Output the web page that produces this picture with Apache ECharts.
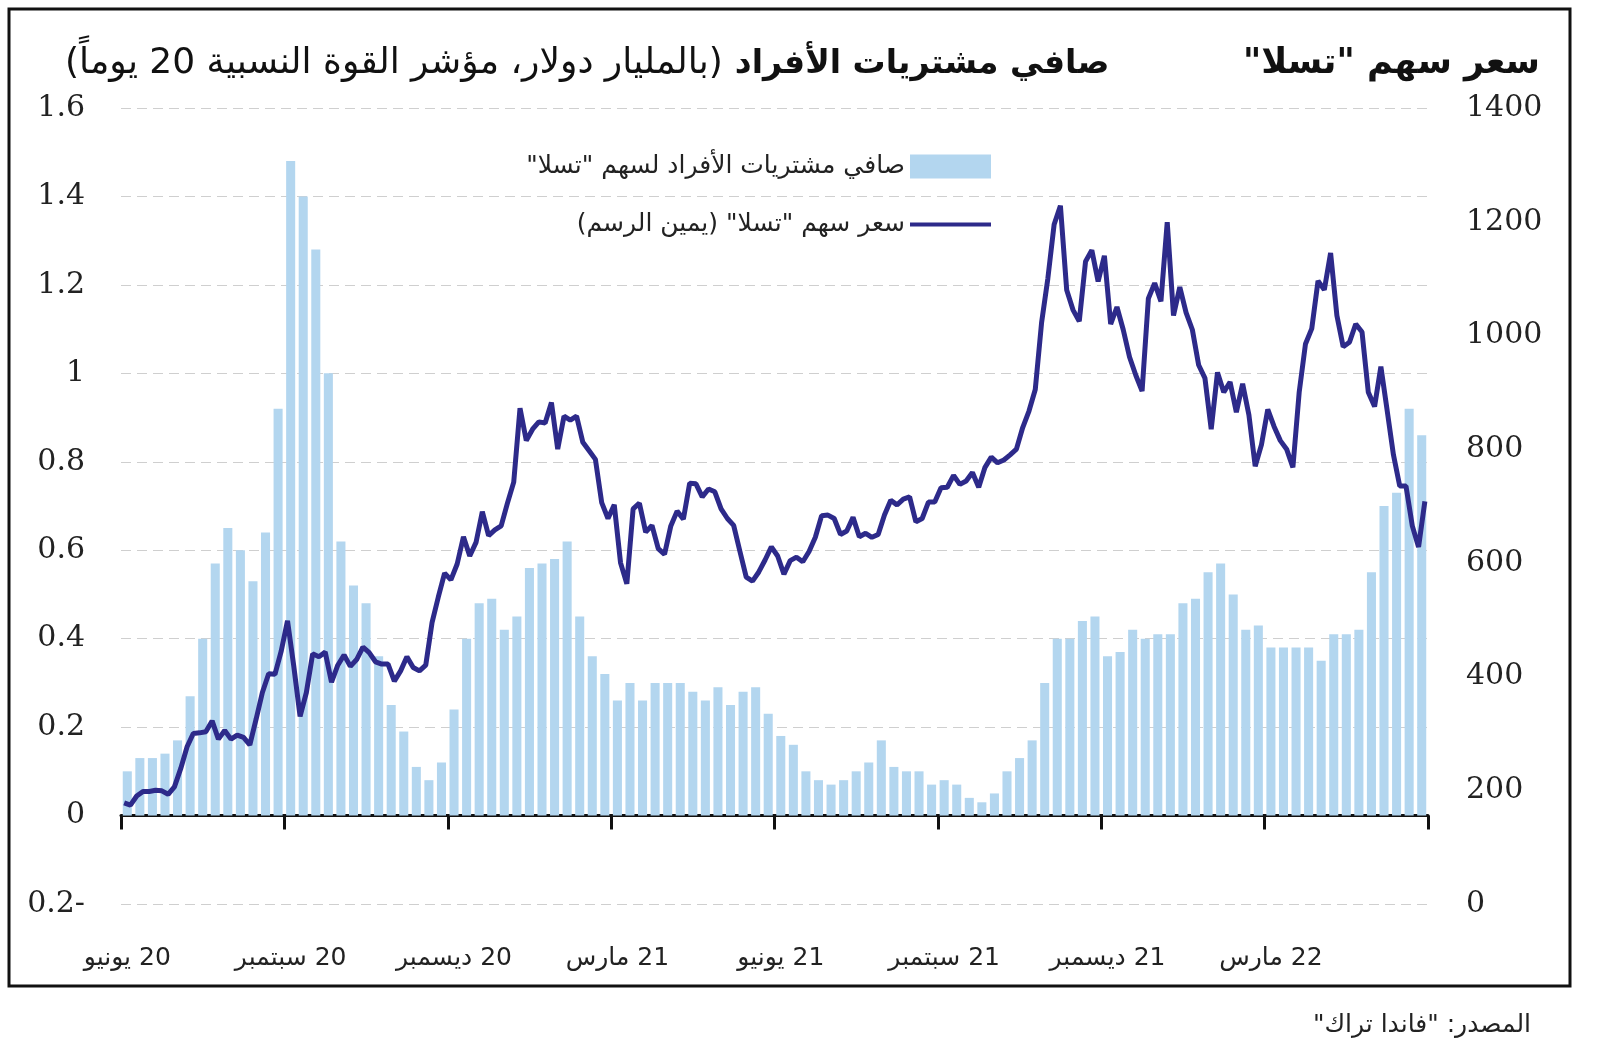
<!DOCTYPE html>
<html>
<head>
<meta charset="utf-8">
<script src="https://cdn.jsdelivr.net/npm/echarts@6/dist/echarts.min.js"></script>
<style>
  html, body { margin: 0; padding: 0; background: #fff; }
  #chart { width: 1600px; height: 1053px; direction: rtl; }
</style>
</head>
<body>
<div id="chart"></div>
<script>
// weekly categories, June 1 2020 .. May 27 2022
const weeks = [];
for (let i = 0; i < 104; i++) {
  weeks.push(new Date(Date.UTC(2020, 5, 1) + i * 7 * 864e5).toISOString().slice(0, 10));
}
// two price readings per week (early / late in the week)
const halfWeeks = [];
weeks.forEach(function (w) { halfWeeks.push(w + " a", w + " b"); });

const tickWeeks = [0, 13, 26, 39, 52, 65, 78, 91];
const tickLabels = ["20 يونيو", "20 سبتمبر", "20 ديسمبر", "21 مارس", "21 يونيو", "21 سبتمبر", "21 ديسمبر", "22 مارس"];

// net retail purchases, bn $ (left axis)
const netBuying = [
  0.10, 0.13, 0.13, 0.14, 0.17, 0.27, 0.40, 0.57, 0.65, 0.60,
  0.53, 0.64, 0.92, 1.48, 1.40, 1.28, 1.00, 0.62, 0.52, 0.48,
  0.36, 0.25, 0.19, 0.11, 0.08, 0.12, 0.24, 0.40, 0.48, 0.49,
  0.42, 0.45, 0.56, 0.57, 0.58, 0.62, 0.45, 0.36, 0.32, 0.26,
  0.30, 0.26, 0.30, 0.30, 0.30, 0.28, 0.26, 0.29, 0.25, 0.28,
  0.29, 0.23, 0.18, 0.16, 0.10, 0.08, 0.07, 0.08, 0.10, 0.12,
  0.17, 0.11, 0.10, 0.10, 0.07, 0.08, 0.07, 0.04, 0.03, 0.05,
  0.10, 0.13, 0.17, 0.30, 0.40, 0.40, 0.44, 0.45, 0.36, 0.37,
  0.42, 0.40, 0.41, 0.41, 0.48, 0.49, 0.55, 0.57, 0.50, 0.42,
  0.43, 0.38, 0.38, 0.38, 0.38, 0.35, 0.41, 0.41, 0.42, 0.55,
  0.70, 0.73, 0.92, 0.86
];

// Tesla share price (right axis)
const price = [
  178, 174, 190, 198, 198, 200, 199, 193, 206, 238,
  276, 300, 301, 303, 322, 290, 305, 290, 297, 293,
  280, 325, 372, 405, 404, 445, 498, 418, 330, 372,
  440, 435, 443, 390, 420, 438, 418, 430, 452, 442,
  426, 422, 422, 392, 410, 435, 416, 410, 420, 495,
  540, 582, 570, 598, 646, 612, 636, 690, 648, 658,
  665, 705, 742, 872, 815, 835, 848, 846, 882, 800,
  858, 851, 858, 812, 797, 782, 706, 678, 702, 600,
  563, 695, 705, 654, 666, 625, 615, 665, 691, 677,
  740, 739, 716, 730, 725, 695, 678, 666, 620, 575,
  568, 584, 605, 628, 612, 580, 604, 610, 602, 620,
  645, 683, 684, 678, 650, 656, 680, 646, 652, 645,
  650, 684, 710, 702, 712, 716, 672, 678, 707, 707,
  732, 733, 754, 738, 744, 759, 733, 768, 786, 776,
  781, 790, 800, 838, 867, 905, 1022, 1100, 1195, 1228,
  1080, 1045, 1025, 1130, 1150, 1095, 1140, 1020, 1050, 1010,
  962, 930, 902, 1065, 1092, 1060, 1199, 1035, 1085, 1040,
  1010, 948, 925, 835, 935, 900, 918, 865, 915, 860,
  770, 808, 870, 840, 815, 800, 768, 900, 985, 1012,
  1096, 1080, 1145, 1035, 980, 988, 1020, 1006, 900, 875,
  945, 868, 790, 735, 735, 665, 628, 708
];

const arFont = "DejaVu Sans";
const numFont = "DejaVu Serif";

const chart = echarts.init(document.getElementById("chart"));

chart.setOption({
  animation: false,
  backgroundColor: "#fff",
  title: [
    {
      text: 'سعر سهم "تسلا"',
      right: 55,
      top: 41,
      textStyle: { fontFamily: arFont, fontSize: 35, fontWeight: "bold", color: "#111" },
    },
    {
      text: '{r|(بالمليار دولار، مؤشر القوة النسبية 20 يوماً)}{b|صافي مشتريات الأفراد}',
      left: 60,
      top: 41,
      textStyle: {
        rich: {
          r: { fontFamily: arFont, fontSize: 36, fontWeight: "normal", color: "#111" },
          b: { fontFamily: arFont, fontSize: 33, fontWeight: "bold", color: "#111", padding: [0, 0, 0, 12] },
        },
      },
    },
    {
      text: 'المصدر: "فاندا تراك"',
      right: 64,
      top: 1008,
      textStyle: { fontFamily: arFont, fontSize: 25, fontWeight: "normal", color: "#222" },
    },
  ],
  legend: {
    orient: "vertical",
    align: "right",
    right: 604,
    top: 149,
    itemWidth: 81,
    itemHeight: 24,
    itemGap: 33,
    textStyle: { fontFamily: arFont, fontSize: 25, color: "#222" },
    data: [
      { name: 'صافي مشتريات الأفراد لسهم "تسلا"', icon: "rect" },
      { name: 'سعر سهم "تسلا" (يمين الرسم)', icon: "path://M0,0H81V4H0Z" },
    ],
  },
  grid: { left: 121, right: 172, top: 108, bottom: 149 },
  xAxis: [
    {
      type: "category",
      data: weeks,
      axisLine: { onZero: true, onZeroAxisIndex: 0, lineStyle: { color: "#111", width: 3 } },
      axisTick: {
        show: true,
        interval: function (idx) { return tickWeeks.indexOf(idx) >= 0; },
        length: 14,
        lineStyle: { color: "#111", width: 3 },
      },
      axisLabel: { show: false },
      splitLine: { show: false },
    },
    {
      type: "category",
      data: weeks,
      position: "bottom",
      axisLine: { show: false, onZero: false },
      axisTick: { show: false },
      axisLabel: {
        interval: function (idx) { return tickWeeks.indexOf(idx) >= 0; },
        formatter: function (v, idx) { return tickLabels[tickWeeks.indexOf(idx)]; },
        margin: 42,
        fontFamily: arFont,
        fontSize: 25,
        color: "#222",
      },
    },
    {
      type: "category",
      data: halfWeeks,
      show: false,
    },
  ],
  yAxis: [
    {
      type: "value",
      min: -0.2,
      max: 1.6,
      interval: 0.2,
      axisLine: { show: false },
      axisTick: { show: false },
      axisLabel: {
        margin: 36,
        fontFamily: numFont,
        fontSize: 30,
        color: "#222",
        formatter: function (v) {
          v = Math.round(v * 10) / 10;
          if (v < 0) return "-" + Math.abs(v).toFixed(1);
          if (v === 0 || v === 1) return String(v);
          return v.toFixed(1);
        },
      },
      splitLine: { lineStyle: { color: "#cfcfcf", width: 1, type: [10, 6] } },
    },
    {
      type: "value",
      min: 0,
      max: 1400,
      interval: 200,
      position: "right",
      axisLine: { show: false },
      axisTick: { show: false },
      axisLabel: {
        margin: 38,
        fontFamily: numFont,
        fontSize: 30,
        color: "#222",
        formatter: function (v) { return String(v); },
      },
      splitLine: { show: false },
    },
  ],
  series: [
    {
      name: 'صافي مشتريات الأفراد لسهم "تسلا"',
      type: "bar",
      xAxisIndex: 0,
      yAxisIndex: 0,
      data: netBuying,
      barCategoryGap: "28%",
      itemStyle: { color: "#b3d6ef" },
    },
    {
      name: 'سعر سهم "تسلا" (يمين الرسم)',
      type: "line",
      xAxisIndex: 2,
      yAxisIndex: 1,
      data: price,
      symbol: "none",
      color: "#2d2a8a",
      lineStyle: { width: 5, color: "#2d2a8a" },
    },
  ],
  graphic: [
    {
      type: "rect",
      shape: { x: 9, y: 9, width: 1561, height: 977 },
      style: { fill: "none", stroke: "#111", lineWidth: 3 },
      silent: true,
    },
  ],
});
</script>
</body>
</html>
